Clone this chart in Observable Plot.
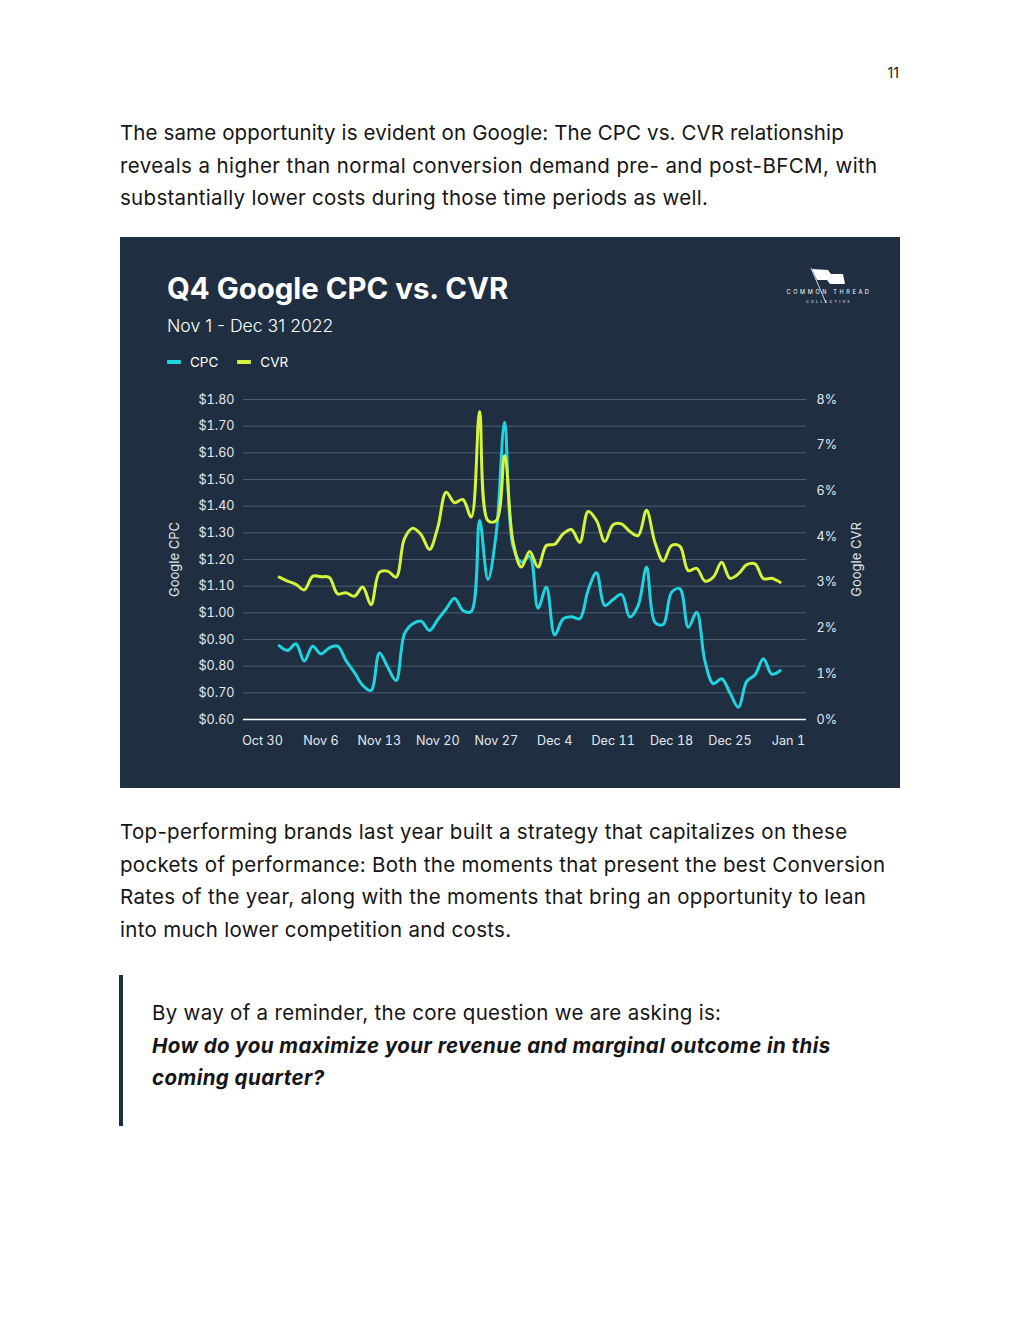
<!DOCTYPE html>
<html><head><meta charset="utf-8">
<script src="https://cdn.jsdelivr.net/npm/d3@7"></script>
<script src="https://cdn.jsdelivr.net/npm/@observablehq/plot@0.6"></script>
<style>
html,body{margin:0;padding:0;background:#fff;}
body{width:1020px;height:1320px;position:relative;font-family:Inter,"Open Sans",sans-serif;color:#151515;overflow:hidden;}
.abs{position:absolute;white-space:nowrap;}
.txt{font-size:20.5px;line-height:32.5px;letter-spacing:0.3px;}
#panel{left:120px;top:237px;width:780px;height:551px;background:#1f2f41;}
#title{left:47px;top:34px;font-size:29.4px;line-height:36px;font-weight:700;color:#fff;}
#subtitle{left:47px;top:78px;font-size:17.6px;line-height:22px;font-weight:300;color:#fff;}
#legend{left:47px;top:116px;height:18px;display:flex;align-items:center;font-size:13.5px;color:#fff;}
.sw{display:inline-block;width:14px;height:4px;border-radius:1px;margin-right:9px;}
#chart{left:0;top:143px;}
#bar{left:119px;top:975px;width:4px;height:151px;background:#1f2f41;}
</style></head>
<body>
<div class="abs" style="right:121px;top:64px;font-size:14px;line-height:18px;">11</div>
<div class="abs txt" style="left:120px;top:117px;"><span style="letter-spacing:0.12px">The same opportunity is evident on Google: The CPC vs. CVR relationship</span><br><span style="letter-spacing:0.4px">reveals a higher than normal conversion demand pre- and post-BFCM, with</span><br>substantially lower costs during those time periods as well.</div>
<div id="panel" class="abs">
  <div id="title" class="abs">Q4 Google CPC vs. CVR</div>
  <div id="subtitle" class="abs">Nov 1 - Dec 31 2022</div>
  <div id="legend" class="abs"><span class="sw" style="background:#1fd3df"></span><span style="margin-right:19px">CPC</span><span class="sw" style="background:#d5f43b"></span><span>CVR</span></div>
  <svg class="abs" style="left:665px;top:28px" width="90" height="44" viewBox="0 0 90 44">
    <line x1="26" y1="3" x2="41" y2="38" stroke="#fff" stroke-width="0.8"/>
    <polygon points="27,4 43,5 46,9 58,9 60,19 45,19 42,15 32,15" fill="#fff"/>
    <text x="44" y="29" text-anchor="middle" fill="#fff" font-size="5.6" letter-spacing="2.6" font-family="Inter">COMMON THREAD</text>
    <text x="44" y="38" text-anchor="middle" fill="#fff" font-size="3.6" letter-spacing="2.4" font-family="Inter">COLLECTIVE</text>
  </svg>
  <div id="chart" class="abs"></div>
</div>
<div class="abs txt" style="left:120px;top:816px;">Top-performing brands last year built a strategy that capitalizes on these<br>pockets of performance: Both the moments that present the best Conversion<br>Rates of the year, along with the moments that bring an opportunity to lean<br>into much lower competition and costs.</div>
<div id="bar" class="abs"></div>
<div class="abs txt" style="left:152px;top:997px;">By way of a reminder, the core question we are asking is:<br><b><i style="letter-spacing:0.44px">How do you maximize your revenue and marginal outcome in this<br>coming quarter?</i></b></div>
<script>
// Daily values, Nov 1 – Dec 31 2022
const startDate = "2022-11-01";
const cpc = [0.877,0.859,0.884,0.819,0.875,0.846,0.869,0.875,0.821,0.777,
             0.728,0.709,0.849,0.796,0.746,0.921,0.959,0.969,0.934,0.975,
             1.015,1.055,1.009,1.005,1.346,1.125,1.300,1.715,1.250,1.190,
             1.212,1.018,1.096,0.917,0.977,0.985,0.978,1.085,1.150,1.028,
             1.050,1.069,0.984,1.028,1.171,0.965,0.956,1.077,1.090,0.946,
             1.002,0.818,0.734,0.753,0.699,0.646,0.743,0.768,0.828,0.770,0.783];
const cvr = [3.56,3.46,3.38,3.24,3.58,3.57,3.55,3.14,3.17,3.08,
             3.31,2.87,3.68,3.71,3.56,4.52,4.78,4.62,4.25,4.81,
             5.68,5.42,5.50,5.06,7.70,4.97,4.97,6.60,4.45,3.81,
             4.20,3.81,4.35,4.38,4.64,4.75,4.43,5.20,4.98,4.45,
             4.87,4.89,4.70,4.60,5.23,4.43,3.96,4.35,4.33,3.72,
             3.78,3.46,3.56,3.93,3.53,3.64,3.87,3.89,3.52,3.53,3.43];
const leftTicks = [0.6,0.7,0.8,0.9,1.0,1.1,1.2,1.3,1.4,1.5,1.6,1.7,1.8];
const leftTickLabels = ["$0.60","$0.70","$0.80","$0.90","$1.00","$1.10","$1.20","$1.30","$1.40","$1.50","$1.60","$1.70","$1.80"];
const rightTickLabels = ["0%","1%","2%","3%","4%","6%","7%","8%"];
const xTickDates = ["2022-10-30","2022-11-06","2022-11-13","2022-11-20","2022-11-27","2022-12-04","2022-12-11","2022-12-18","2022-12-25","2023-01-01"];
const xTickLabels = ["Oct 30","Nov 6","Nov 13","Nov 20","Nov 27","Dec 4","Dec 11","Dec 18","Dec 25","Jan 1"];

const cpcMin = 0.6, cpcMax = 1.8, cvrMax = 8;
const toLeft = v => cpcMin + v / cvrMax * (cpcMax - cpcMin);
const start = new Date(startDate + "T00:00Z");
const rows = cpc.map((v, i) => ({date: d3.utcDay.offset(start, i), cpc: v, cvr: cvr[i]}));
const xTicks = xTickDates.map(s => new Date(s + "T00:00Z"));
const rightPos = rightTickLabels.map((_, i) => cpcMin + i * (cpcMax - cpcMin) / (rightTickLabels.length - 1));
const near = (arr, d) => arr.findIndex(a => Math.abs(+a - +d) < 1e-6);

const textColor = "#e4e9ee";
const chart = Plot.plot({
  width: 780, height: 389,
  marginLeft: 123, marginRight: 94, marginTop: 19, marginBottom: 50,
  style: {background: "transparent", color: textColor, fontFamily: "Inter, sans-serif", fontSize: "12.6px"},
  x: {type: "utc", domain: [new Date(Date.UTC(2022, 9, 27, 17, 20)), new Date(Date.UTC(2023, 0, 3, 3, 50))]},
  y: {domain: [cpcMin, cpcMax]},
  marks: [
    Plot.gridY(leftTicks, {stroke: "#4e5e71", strokeOpacity: 1, strokeWidth: 1}),
    Plot.ruleY([cpcMin], {stroke: "#ffffff", strokeWidth: 1.5}),
    Plot.axisY(leftTicks, {tickSize: 0, tickPadding: 9, tickFormat: d => leftTickLabels[near(leftTicks, d)], label: null, fill: textColor}),
    Plot.axisY(rightPos, {anchor: "right", tickSize: 0, tickPadding: 10, tickFormat: d => rightTickLabels[near(rightPos, d)], label: null, fill: textColor}),
    Plot.axisX(xTicks, {tickSize: 0, tickPadding: 17, tickFormat: d => xTickLabels[near(xTicks, d)], label: null, fill: textColor}),
    Plot.lineY(rows, {x: "date", y: "cpc", stroke: "#1fd3df", strokeWidth: 3, curve: "catmull-rom"}),
    Plot.lineY(rows, {x: "date", y: d => toLeft(d.cvr), stroke: "#d5f43b", strokeWidth: 3, curve: "catmull-rom"}),
    Plot.text(["Google CPC"], {frameAnchor: "left", textAnchor: "middle", dx: -69, rotate: -90, fill: textColor, fontSize: 13}),
    Plot.text(["Google CVR"], {frameAnchor: "right", textAnchor: "middle", dx: 50, rotate: -90, fill: textColor, fontSize: 13})
  ]
});
document.getElementById("chart").appendChild(chart);
</script>
</body></html>
